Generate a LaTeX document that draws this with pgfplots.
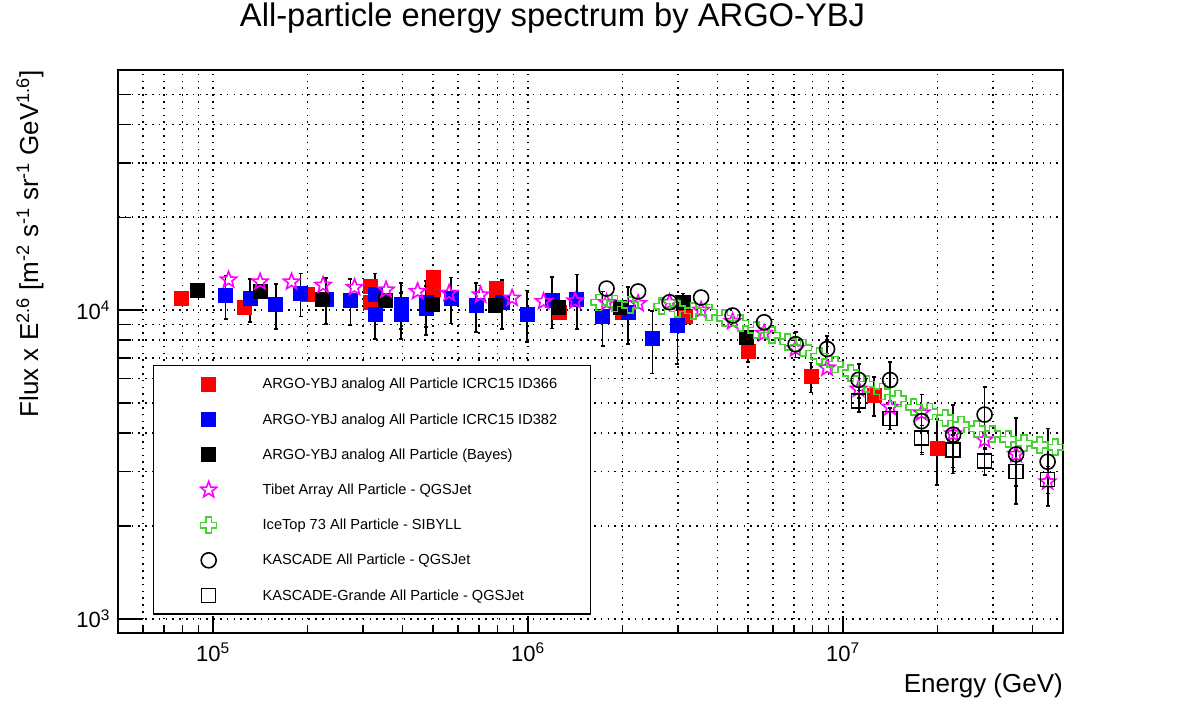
\documentclass[border=0pt]{standalone}
\usepackage{fontspec}
\setmainfont{Liberation Sans}
\usepackage{pgfplots}
\usepackage{pgfplotstable}
\pgfplotsset{compat=1.18}

\definecolor{icegreen}{RGB}{70,210,50}
\definecolor{tibetmag}{RGB}{255,0,255}

\pgfdeclareplotmark{ostar}{%
 \pgfpathmoveto{\pgfpointpolar{90}{\pgfplotmarksize}}%
 \pgfpathlineto{\pgfpointpolar{126}{0.42\pgfplotmarksize}}%
 \pgfpathlineto{\pgfpointpolar{162}{\pgfplotmarksize}}%
 \pgfpathlineto{\pgfpointpolar{198}{0.42\pgfplotmarksize}}%
 \pgfpathlineto{\pgfpointpolar{234}{\pgfplotmarksize}}%
 \pgfpathlineto{\pgfpointpolar{270}{0.42\pgfplotmarksize}}%
 \pgfpathlineto{\pgfpointpolar{306}{\pgfplotmarksize}}%
 \pgfpathlineto{\pgfpointpolar{342}{0.42\pgfplotmarksize}}%
 \pgfpathlineto{\pgfpointpolar{18}{\pgfplotmarksize}}%
 \pgfpathlineto{\pgfpointpolar{54}{0.42\pgfplotmarksize}}%
 \pgfpathclose\pgfusepathqstroke}

\pgfdeclareplotmark{ocross}{%
 \pgfpathmoveto{\pgfqpoint{-\pgfplotmarksize}{0.35\pgfplotmarksize}}%
 \pgfpathlineto{\pgfqpoint{-0.35\pgfplotmarksize}{0.35\pgfplotmarksize}}%
 \pgfpathlineto{\pgfqpoint{-0.35\pgfplotmarksize}{\pgfplotmarksize}}%
 \pgfpathlineto{\pgfqpoint{0.35\pgfplotmarksize}{\pgfplotmarksize}}%
 \pgfpathlineto{\pgfqpoint{0.35\pgfplotmarksize}{0.35\pgfplotmarksize}}%
 \pgfpathlineto{\pgfqpoint{\pgfplotmarksize}{0.35\pgfplotmarksize}}%
 \pgfpathlineto{\pgfqpoint{\pgfplotmarksize}{-0.35\pgfplotmarksize}}%
 \pgfpathlineto{\pgfqpoint{0.35\pgfplotmarksize}{-0.35\pgfplotmarksize}}%
 \pgfpathlineto{\pgfqpoint{0.35\pgfplotmarksize}{-\pgfplotmarksize}}%
 \pgfpathlineto{\pgfqpoint{-0.35\pgfplotmarksize}{-\pgfplotmarksize}}%
 \pgfpathlineto{\pgfqpoint{-0.35\pgfplotmarksize}{-0.35\pgfplotmarksize}}%
 \pgfpathlineto{\pgfqpoint{-\pgfplotmarksize}{-0.35\pgfplotmarksize}}%
 \pgfpathclose\pgfusepathqstroke}

\pgfplotsset{
 myleg/.style={legend image code/.code={%
   \path[draw=none, fill=none] (-55pt,-17.6pt) rectangle (54pt,17.6pt);
   \draw[##1] plot coordinates {(0pt,0pt)};}},
 myerr/.style={error bars/.cd, y dir=both, y explicit relative,
   error bar style={line width=1.8pt, black, solid},
   error mark options={black, line width=1.6pt, mark size=2pt, rotate=90}},
}
\newcommand\lentry[1]{\makebox[328pt][l]{#1}}

% ARGO-YBJ analog ICRC15 ID366
\pgfplotstableread{
E F r
7.943e4 1.094e4 0.04
1.259e5 1.026e4 0.04
1.995e5 1.127e4 0.04
3.162e5 1.196e4 0.04
3.162e5 1.061e4 0.04
5.012e5 1.279e4 0.04
5.012e5 1.169e4 0.04
7.943e5 1.178e4 0.04
7.943e5 1.118e4 0.04
1.259e6 9.85e3 0.04
1.995e6 9.85e3 0.04
3.162e6 9.56e3 0.06
5.012e6 7.37e3 0.08
7.943e6 6.09e3 0.11
1.259e7 5.31e3 0.145
1.995e7 3.58e3 0.24
}\redtab

% ARGO-YBJ analog ICRC15 ID382
\pgfplotstableread{
E F r
1.097e5 1.116e4 0.16
1.310e5 1.090e4 0.16
1.583e5 1.043e4 0.165
1.899e5 1.135e4 0.16
2.287e5 1.085e4 0.17
2.734e5 1.081e4 0.17
3.280e5 1.123e4 0.17
3.280e5 9.73e3 0.17
3.964e5 1.048e4 0.17
3.964e5 9.73e3 0.17
4.756e5 1.061e4 0.17
4.756e5 1.015e4 0.18
5.706e5 1.090e4 0.17
6.845e5 1.038e4 0.18
8.275e5 1.061e4 0.18
9.930e5 9.73e3 0.19
1.191e6 1.077e4 0.19
1.429e6 1.088e4 0.20
1.727e6 9.58e3 0.20
2.080e6 9.83e3 0.21
2.487e6 8.09e3 0.23
2.984e6 8.94e3 0.25
}\bluetab

% ARGO-YBJ analog (Bayes)
\pgfplotstableread{
E F r
8.93e4 1.161e4 0.02
1.419e5 1.152e4 0.03
2.228e5 1.085e4 0.03
3.524e5 1.075e4 0.03
4.966e5 1.048e4 0.03
7.87e5 1.038e4 0.03
1.250e6 1.023e4 0.03
1.963e6 1.023e4 0.04
3.105e6 1.059e4 0.07
4.93e6 8.18e3 0.05
}\blacktab

% Tibet
\pgfplotstableread{
E F
1.122e5 1.254e4
1.413e5 1.235e4
1.778e5 1.235e4
2.239e5 1.205e4
2.818e5 1.185e4
3.548e5 1.163e4
4.467e5 1.150e4
5.623e5 1.135e4
7.079e5 1.121e4
8.913e5 1.094e4
1.122e6 1.067e4
1.413e6 1.072e4
1.778e6 1.059e4
2.239e6 1.051e4
2.818e6 1.059e4
3.548e6 1.000e4
4.467e6 9.19e3
5.623e6 8.41e3
7.079e6 7.51e3
8.913e6 6.50e3
1.122e7 5.55e3
1.413e7 4.85e3
1.778e7 4.65e3
2.239e7 3.98e3
2.818e7 3.80e3
3.548e7 3.41e3
4.467e7 2.78e3
}\tibettab

% IceTop 73
\pgfplotstableread{
E F
1.679e6 1.06e4
1.884e6 1.05e4
2.113e6 1.04e4
2.661e6 1.03e4
2.985e6 1.01e4
3.350e6 9.95e3
3.758e6 9.83e3
4.217e6 9.42e3
4.732e6 9.08e3
5.309e6 8.62e3
5.957e6 8.30e3
6.683e6 7.90e3
7.499e6 7.56e3
8.414e6 7.10e3
9.441e6 6.67e3
1.059e7 6.26e3
1.189e7 5.76e3
1.334e7 5.45e3
1.496e7 5.17e3
1.679e7 4.85e3
1.884e7 4.69e3
2.113e7 4.48e3
2.371e7 4.26e3
2.661e7 4.13e3
2.985e7 3.97e3
3.350e7 3.82e3
3.758e7 3.71e3
4.217e7 3.66e3
4.732e7 3.60e3
}\icetab

% KASCADE (points with visible error bars)
\pgfplotstableread{
E F r
7.079e6 7.76e3 0.095
8.913e6 7.49e3 0.10
1.122e7 5.95e3 0.125
1.413e7 5.94e3 0.145
1.778e7 4.37e3 0.22
2.239e7 3.95e3 0.25
2.818e7 4.59e3 0.23
3.548e7 3.41e3 0.31
4.467e7 3.23e3 0.28
}\kastab
% KASCADE (points with errors smaller than the marker)
\pgfplotstableread{
E F
1.778e6 1.175e4
2.239e6 1.150e4
2.818e6 1.061e4
3.548e6 1.099e4
4.467e6 9.61e3
5.623e6 9.14e3
}\kastablow

% KASCADE-Grande
\pgfplotstableread{
E F r
1.122e7 5.08e3 0.08
1.413e7 4.46e3 0.08
1.778e7 3.85e3 0.10
2.239e7 3.52e3 0.12
2.818e7 3.25e3 0.10
3.548e7 3.00e3 0.10
4.467e7 2.83e3 0.10
}\kgtab

\begin{document}
\begin{tikzpicture}
\path[use as bounding box] (0pt,0pt) rectangle (1182pt,-705pt);
\begin{axis}[
 at={(118pt,-633pt)}, anchor=south west,
 width=945pt, height=563pt, scale only axis,
 xmode=log, ymode=log,
 xmin=5e4, xmax=5e7, ymin=900, ymax=6e4,
 axis line style={line width=1.6pt},
 tick align=inside, xtick pos=left, ytick pos=left,
 xtick={1e5,1e6,1e7},
 xticklabels={10\textsuperscript{5},10\textsuperscript{6},10\textsuperscript{7}},
 minor xtick={6e4,7e4,8e4,9e4,2e5,3e5,4e5,5e5,6e5,7e5,8e5,9e5,2e6,3e6,4e6,5e6,6e6,7e6,8e6,9e6,2e7,3e7,4e7},
 ytick={1e3,1e4},
 yticklabels={10\textsuperscript{3},10\textsuperscript{4}},
 minor ytick={2e3,3e3,4e3,5e3,6e3,7e3,8e3,9e3,2e4,3e4,4e4,5e4},
 xtick style={/pgfplots/major tick length=17pt,/pgfplots/minor tick length=8.5pt},
 ytick style={/pgfplots/major tick length=25pt,/pgfplots/minor tick length=13pt},
 major tick style={line width=1.4pt, black},
 minor tick style={line width=1.4pt, black},
 grid=both,
 major grid style={black, line width=1.6pt, dash pattern=on 1.6pt off 5.2pt},
 minor grid style={black, line width=1.6pt, dash pattern=on 1.6pt off 5.2pt},
 tick label style={font=\fontsize{22}{26}\selectfont},
 yticklabel style={anchor=east, xshift=-8pt, inner sep=0pt},
 xticklabel style={anchor=north, yshift=-10pt, inner sep=0pt},
 title={All-particle energy spectrum by ARGO-YBJ},
 title style={at={(0.4598,1.0657)}, anchor=base, inner sep=0pt, font=\fontsize{32.7}{38}\selectfont},
 xlabel={Energy (GeV)},
 xlabel style={at={(1,-0.1048)}, anchor=base east, inner sep=0pt, font=\fontsize{26}{30}\selectfont},
 ylabel={Flux x E\textsuperscript{2.6} [m\textsuperscript{-2} s\textsuperscript{-1} sr\textsuperscript{-1} GeV\textsuperscript{1.6}]},
 ylabel style={at={(-0.0931,1)}, anchor=east, inner sep=0pt, font=\fontsize{26}{30}\selectfont},
 legend cell align=left,
 legend style={at={(0.037,0.476)}, anchor=north west, draw=black, line width=1.4pt, fill=white,
   inner xsep=0pt, inner ysep=1pt, row sep=0pt, column sep=0pt, nodes={inner sep=0pt},
   font=\fontsize{14.6}{17}\selectfont},
]
\addplot[only marks, mark=square*, mark size=7pt, color=red, mark options={line width=0.5pt}, myleg, myerr]
  table[x=E, y=F, y error=r] {\redtab};
\addlegendentry{\lentry{ARGO-YBJ analog All Particle ICRC15 ID366}}
\addplot[only marks, mark=square*, mark size=7pt, color=blue, mark options={line width=0.5pt}, myleg, myerr]
  table[x=E, y=F, y error=r] {\bluetab};
\addlegendentry{\lentry{ARGO-YBJ analog All Particle ICRC15 ID382}}
\addplot[only marks, mark=square*, mark size=7pt, color=black, mark options={line width=0.5pt}, myleg, myerr]
  table[x=E, y=F, y error=r] {\blacktab};
\addlegendentry{\lentry{ARGO-YBJ analog All Particle (Bayes)}}
\addplot[only marks, mark=ostar, mark size=8.5pt, color=tibetmag, mark options={line width=1.6pt}, myleg]
  table[x=E, y=F] {\tibettab};
\addlegendentry{\lentry{Tibet Array All Particle - QGSJet}}
\addplot[only marks, mark=ocross, mark size=8pt, color=icegreen, mark options={line width=1.6pt}, myleg]
  table[x=E, y=F] {\icetab};
\addlegendentry{\lentry{IceTop 73 All Particle - SIBYLL}}
\addplot[only marks, mark=o, mark size=7.5pt, color=black, mark options={line width=1.6pt}, myleg, myerr]
  table[x=E, y=F, y error=r] {\kastab};
\addlegendentry{\lentry{KASCADE All Particle - QGSJet}}
\addplot[only marks, mark=square, mark size=7pt, color=black, mark options={line width=1.6pt}, myleg, myerr]
  table[x=E, y=F, y error=r] {\kgtab};
\addlegendentry{\lentry{KASCADE-Grande All Particle - QGSJet}}
\addplot[only marks, mark=o, mark size=7.5pt, color=black, mark options={line width=1.6pt}, forget plot]
  table[x=E, y=F] {\kastablow};
\end{axis}
\end{tikzpicture}
\end{document}
